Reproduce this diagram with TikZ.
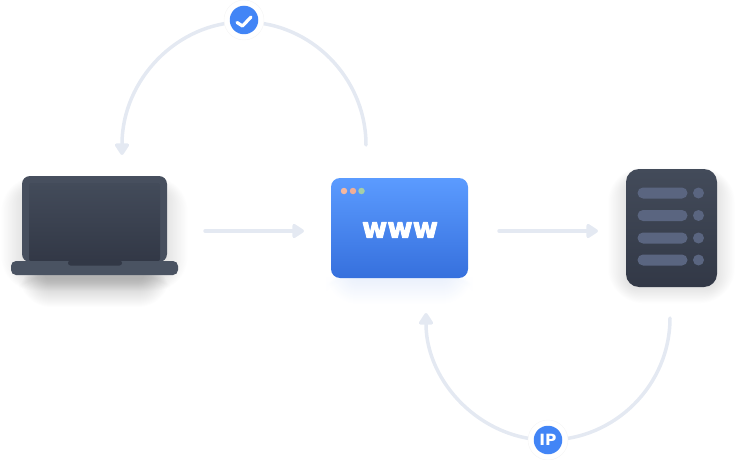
\documentclass[tikz,border=0pt]{standalone}
\usepackage{fontspec}
\setmainfont{DejaVu Sans}
\newfontfamily\wwwfont[FakeBold=3]{DejaVu Sans Bold}
\usetikzlibrary{arrows.meta}
\definecolor{flowgrey}{HTML}{E4E9F2}
\definecolor{badgeblue}{HTML}{4285F6}
\definecolor{caseedge}{HTML}{474F5E}
\definecolor{casebase}{HTML}{4A5362}
\definecolor{darktop}{HTML}{434B5A}
\definecolor{darkbottom}{HTML}{323846}
\definecolor{webtop}{HTML}{5B9BFF}
\definecolor{webbottom}{HTML}{3670DD}
\definecolor{rowgrey}{HTML}{5A6580}
\definecolor{dotred}{HTML}{F4B8A0}
\definecolor{dotorange}{HTML}{EFAE98}
\definecolor{dotgreen}{HTML}{A6CFA6}

\begin{document}
\begin{tikzpicture}[x=1pt, y=-1pt,
  flow/.style = {draw=flowgrey, line width=3.5pt, line cap=round,
                 -{Triangle[width=16pt, length=13pt, round]}},
  box/.style = {inner sep=0pt, outer sep=0pt, draw=none},
  lid/.style = {box, fill=caseedge, minimum width=145pt, minimum height=86pt, rounded corners=8pt},
  screen/.style = {box, top color=darktop, bottom color=darkbottom, minimum width=131pt, minimum height=78pt, rounded corners=2pt},
  deck/.style = {box, fill=casebase, minimum width=167pt, minimum height=14pt, rounded corners=5pt},
  notch/.style = {box, fill=darkbottom, minimum width=54pt, minimum height=5pt, rounded corners=2.5pt},
  window/.style = {box, top color=webtop, bottom color=webbottom, minimum width=137pt, minimum height=100pt, rounded corners=9pt},
  light/.style = {box, circle, minimum size=6.5pt, fill=#1},
  rack/.style = {box, top color=darktop, bottom color=darkbottom, minimum width=91pt, minimum height=118pt, rounded corners=13pt},
  row/.style = {box, fill=rowgrey, minimum width=50pt, minimum height=11pt, rounded corners=5.5pt},
  led/.style = {box, circle, fill=rowgrey, minimum size=11pt},
  halo/.style = {box, circle, fill=white, draw=black!4, line width=.4pt, minimum size=40pt},
  badge/.style = {box, circle, fill=badgeblue, minimum size=28.5pt, text=white, font=\bfseries\fontsize{15.5}{15.5}\selectfont},
  ]
  \useasboundingbox (0,0) rectangle (745,460);

  % soft shadows
  \foreach \d in {0,1,...,26} {
    \fill[black, opacity=.0025, rounded corners={8pt+\d*1pt}] ({22-\d*.8},{190-\d*.5}) rectangle ({167+\d*.8},{278+\d*.5});
    \fill[black, opacity=.008, rounded corners={6pt+\d*1pt}] ({45-\d},{268-\d*.2}) rectangle ({144+\d},{281+\d});
    \fill[black, opacity=.0025, rounded corners={10pt+\d*1pt}] ({626-\d*.7},{180-\d*.5}) rectangle ({717+\d*.7},{288+\d*.6});
    \fill[webbottom, opacity=.005, rounded corners={6pt+\d*1pt}] ({352-\d},{270-\d*.2}) rectangle ({447+\d},{278+\d});
  }

  % laptop
  \node[lid] (laptop) at (94.5,219) {};
  \node[screen] (display) at (94.5,222) {};
  \node[deck] (deck) at (94.5,268) {};
  \node[notch] (hinge) at (95,263) {};

  % browser window
  \node[window] (web) at (399.5,228) {};
  \node[light=dotred] (close) at (344,191) {};
  \node[light=dotorange] (minimize) at (353,191) {};
  \node[light=dotgreen] (maximize) at (361.5,191) {};
  \node[box, text=white, font=\wwwfont\fontsize{28}{28}\selectfont, xscale=.98] (www) at (400,230) {\special{pdf:code 1 j 1 J}www};

  % server
  \node[rack] (server) at (671.5,228) {};
  \foreach \i/\ypos in {1/193,2/215.5,3/238,4/260} {
    \node[row] (row\i) at (662.5,\ypos) {};
    \node[led] (led\i) at (698.5,\ypos) {};
  }

  % connector ends
  \coordinate (laptopout) at (205,231);
  \coordinate (webin) at (304,231);
  \coordinate (webout) at (499,231);
  \coordinate (serverin) at (598,231);
  \coordinate (webup) at (366,145);
  \coordinate (checktop) at (244,22);
  \coordinate (laptopdown) at (122,155);
  \coordinate (serverdown) at (670,318);
  \coordinate (ipbottom) at (548,440);
  \coordinate (webback) at (426,313);

  \draw[flow] (laptopout) -- (webin);
  \draw[flow] (webout) -- (serverin);
  \draw[flow] (webup) .. controls (366,78) and (311,22) .. (checktop)
    .. controls (177,22) and (122,80) .. (laptopdown);
  \draw[flow] (serverdown) .. controls (670,385) and (615,440) .. (ipbottom)
    .. controls (481,440) and (426,382) .. (webback);

  % badges
  \node[halo] (checkhalo) at (244,20) {};
  \node[badge] (check) at (244,20) {};
  \coordinate (tick1) at (237,22.5);
  \coordinate (tick2) at (242.5,26);
  \coordinate (tick3) at (251,17);
  \draw[white, line width=3.2pt, line cap=round, line join=round] (tick1) -- (tick2) -- (tick3);
  \node[halo] (iphalo) at (548,440) {};
  \node[badge] (ip) at (548,440) {IP};
\end{tikzpicture}
\end{document}
